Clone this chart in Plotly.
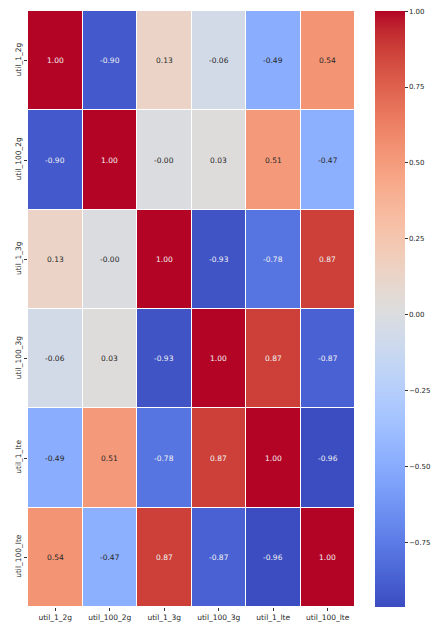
import plotly.graph_objects as go

labels = ["util_1_2g", "util_100_2g", "util_1_3g", "util_100_3g", "util_1_lte", "util_100_lte"]
row_1_2g = [1.00, -0.90, 0.13, -0.06, -0.49, 0.54]
row_100_2g = [-0.90, 1.00, -0.001, 0.03, 0.51, -0.47]
row_1_3g = [0.13, -0.001, 1.00, -0.93, -0.78, 0.87]
row_100_3g = [-0.06, 0.03, -0.93, 1.00, 0.87, -0.87]
row_1_lte = [-0.49, 0.51, -0.78, 0.87, 1.00, -0.96]
row_100_lte = [0.54, -0.47, 0.87, -0.87, -0.96, 1.00]
colorbar_ticks = [-0.75, -0.50, -0.25, 0.00, 0.25, 0.50, 0.75, 1.00]
colorbar_ticktext = [f"{t:.2f}".replace("-", "\u2212") for t in colorbar_ticks]

z = [row_1_2g, row_100_2g, row_1_3g, row_100_3g, row_1_lte, row_100_lte]

cw = [(59,76,192),(68,90,204),(77,104,215),(87,117,225),(98,130,234),(108,142,241),
      (119,154,247),(130,165,251),(141,176,254),(152,185,255),(163,194,255),(174,201,253),
      (184,208,249),(194,213,244),(204,217,238),(213,219,230),(221,221,221),(229,216,209),
      (236,211,197),(241,204,184),(245,196,172),(247,187,160),(247,177,148),(247,166,135),
      (244,154,123),(241,141,111),(236,127,99),(229,112,88),(222,96,77),(213,80,66),
      (203,62,56),(192,40,47),(180,4,38)]
n = len(cw) - 1
colorscale = [[i / n, f"rgb{c}"] for i, c in enumerate(cw)]

zmin = -0.963
zmax = 1.0005

fig = go.Figure(go.Heatmap(
    z=z, x=labels, y=labels, colorscale=colorscale, zmin=zmin, zmax=zmax,
    xgap=1, ygap=1,
    colorbar=dict(thickness=30, len=1.0, lenmode="fraction", x=1.061, xanchor="left",
                  y=0.5, yanchor="middle", outlinewidth=0, xpad=0, ypad=0,
                  tickvals=colorbar_ticks, ticktext=colorbar_ticktext,
                  ticks="outside", ticklen=3, ticklabeloverflow="allow",
                  tickcolor="#333", tickfont=dict(family="DejaVu Sans", size=7, color="#262626")),
))

def lum(v):
    t = (v - zmin) / (zmax - zmin)
    t = min(max(t, 0), 1)
    i = min(int(t * n), n - 1)
    f = t * n - i
    c = [cw[i][k] + (cw[i+1][k] - cw[i][k]) * f for k in range(3)]
    def lin(x):
        x = x / 255
        return x / 12.92 if x <= 0.03928 else ((x + 0.055) / 1.055) ** 2.4
    return 0.2126 * lin(c[0]) + 0.7152 * lin(c[1]) + 0.0722 * lin(c[2])

annotations = []
for ri, row in enumerate(z):
    for ci, v in enumerate(row):
        color = "#f2f2f2" if lum(v) < 0.408 else "#262626"
        annotations.append(dict(x=labels[ci], y=labels[ri], text=f"{v:.2f}", showarrow=False,
                                font=dict(family="DejaVu Sans", size=7.5, color=color)))

fig.update_layout(
    width=433, height=624,
    margin=dict(l=28, r=78, t=11, b=17, autoexpand=False),
    paper_bgcolor="white", plot_bgcolor="white",
    annotations=annotations,
    font=dict(family="DejaVu Sans", size=7.5, color="#262626"),
)
fig.update_xaxes(showgrid=False, zeroline=False, ticks="outside", ticklen=3, tickcolor="#333",
                 tickfont=dict(size=7.5), tickangle=0, automargin=False)
fig.update_yaxes(showgrid=False, zeroline=False, ticks="outside", ticklen=3, tickcolor="#333",
                 tickfont=dict(size=7.5), tickangle=-90, autorange="reversed", automargin=False)

fig.write_html("out.html", config={"displayModeBar": False},
               post_script="document.body.style.margin='0';document.body.style.overflow='hidden';")
